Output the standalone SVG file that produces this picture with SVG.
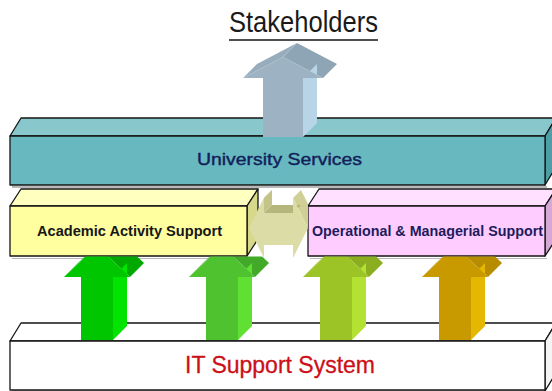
<svg xmlns="http://www.w3.org/2000/svg" width="552" height="391" viewBox="0 0 552 391">
<defs>
<style>
.edge{stroke:#151515;stroke-width:1.3;stroke-linejoin:round}
.shadow{fill:#8a8a8a;opacity:0.6}
.lbl{font-family:"Liberation Sans",Arial,sans-serif;font-weight:bold}
.reg{font-family:"Liberation Sans",Arial,sans-serif}
</style>
<clipPath id="belowBoxes"><rect x="0" y="256.5" width="552" height="135"/></clipPath>
<clipPath id="betweenBoxes"><rect x="240" y="180" width="68" height="90"/></clipPath>
</defs>
<rect width="552" height="391" fill="#ffffff"/>

<g id="stakeholders">
<text class="reg" x="229" y="32" font-size="30" fill="#1a1a1a" textLength="149" lengthAdjust="spacingAndGlyphs">Stakeholders</text>
<line x1="229" y1="40" x2="378" y2="40" stroke="#151515" stroke-width="1.6"/>
</g>

<g id="it-support-system">
<polygon class="shadow" points="12,343 546,343 546,391 12,391"/>
<polygon class="edge" fill="#ffffff" points="10,341 21,323 556,323 545,341"/>
<polygon class="edge" fill="#f4f4f4" points="545,341 556,323 556,373 545,391"/>
<rect class="edge" x="10" y="341" width="535" height="49" fill="#ffffff"/>
<text class="reg" x="185" y="373" font-size="23" fill="#cc1018" stroke="#cc1018" stroke-width="0.3" textLength="190" lengthAdjust="spacingAndGlyphs">IT Support System</text>
</g>

<g id="academic-activity-support">
<polygon class="shadow" points="12,258 249,258 249,259 12,259"/>
<polygon class="edge" fill="#ffffc0" points="10,206 21,189 258,189 247,206"/>
<polygon class="edge" fill="#d8d88a" points="247,206 258,189 258,239 247,256"/>
<rect class="edge" x="10" y="206" width="237" height="50" fill="#ffffa0"/>
<text class="lbl" x="37" y="236" font-size="14" fill="#161616" textLength="185" lengthAdjust="spacingAndGlyphs">Academic Activity Support</text>
</g>

<g id="operational-managerial-support">
<polygon class="shadow" points="310,258 547,258 547,259 310,259"/>
<polygon class="edge" fill="#ffe0ff" points="308,206 319,189 556,189 545,206"/>
<polygon class="edge" fill="#d6a8d6" points="545,206 556,189 556,239 545,256"/>
<rect class="edge" x="308" y="206" width="237" height="50" fill="#ffccff"/>
<text class="lbl" x="312" y="236" font-size="14" fill="#1c1c5c" textLength="231" lengthAdjust="spacingAndGlyphs">Operational &amp; Managerial Support</text>
</g>

<g id="university-services">
<polygon class="shadow" points="12,186 547,186 547,188 12,188"/>
<polygon class="edge" fill="#88c8cd" points="10,136 21,118 556,118 545,136"/>
<polygon class="edge" fill="#4e9ea6" points="545,136 556,118 556,167 545,185"/>
<rect class="edge" x="10" y="136" width="535" height="49" fill="#67b9bf"/>
<text class="reg" x="197" y="165" font-size="17" fill="#12205a" stroke="#12205a" stroke-width="0.4" textLength="165" lengthAdjust="spacingAndGlyphs">University Services</text>
</g>

<g id="connectors">
<g id="link-academic-operational" clip-path="url(#betweenBoxes)">
<polygon fill="#cfcf96" points="249,228 264,198 272,190 257,220"/>
<polygon fill="#c4c48a" points="264,198 272,190 272,205 264,213"/>
<polygon fill="#cfcf96" points="293,198 301,190 316,220 308,228"/>
<polygon fill="#b6b67c" points="264,213 272,205 301,205 293,213"/>
<polygon fill="#dcdca6" points="249,228 264,198 264,213 293,213 293,198 308,228 293,258 293,245 264,245 264,258"/>
</g>
<g id="arrow-to-stakeholders">
<polygon fill="#8ea5b5" points="283,57 297,43 337,64 323,78"/>
<polygon fill="#97adbd" points="243,78 257,64 297,43 283,57"/>
<polygon fill="#b8d4e7" points="303,78 317,64 317,123 303,137"/>
<polygon fill="#9db3c4" points="263,137 263,78 243,78 283,57 323,78 303,78 303,137"/>
</g>
<g clip-path="url(#belowBoxes)">
<g id="arrow-1" transform="translate(97,0)">
<polygon fill="#00a800" points="0,246 14,232 47,263 33,277"/>
<polygon fill="#00b400" points="-33,277 -19,263 14,232 0,246"/>
<polygon fill="#00e400" points="16,277 30,263 30,326 16,340"/>
<polygon fill="#00c600" points="-16,340 -16,277 -33,277 0,246 33,277 16,277 16,340"/>
</g>
<g id="arrow-2" transform="translate(222,0)">
<polygon fill="#42aa28" points="0,246 14,232 47,263 33,277"/>
<polygon fill="#48b42c" points="-33,277 -19,263 14,232 0,246"/>
<polygon fill="#5fe033" points="16,277 30,263 30,326 16,340"/>
<polygon fill="#4fc22f" points="-16,340 -16,277 -33,277 0,246 33,277 16,277 16,340"/>
</g>
<g id="arrow-3" transform="translate(336,0)">
<polygon fill="#8bae20" points="0,246 14,232 47,263 33,277"/>
<polygon fill="#94b822" points="-33,277 -19,263 14,232 0,246"/>
<polygon fill="#b4e232" points="16,277 30,263 30,326 16,340"/>
<polygon fill="#9dc426" points="-16,340 -16,277 -33,277 0,246 33,277 16,277 16,340"/>
</g>
<g id="arrow-4" transform="translate(455,0)">
<polygon fill="#b88c00" points="0,246 14,232 47,263 33,277"/>
<polygon fill="#c09300" points="-33,277 -19,263 14,232 0,246"/>
<polygon fill="#e4b800" points="16,277 30,263 30,326 16,340"/>
<polygon fill="#c89a00" points="-16,340 -16,277 -33,277 0,246 33,277 16,277 16,340"/>
</g>
</g>
</g>
</svg>
